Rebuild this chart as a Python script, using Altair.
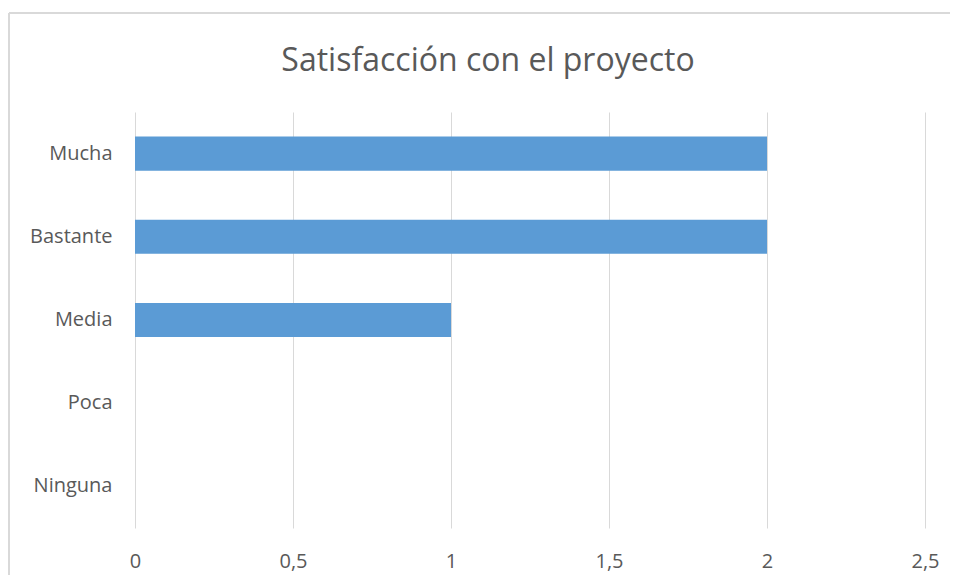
import altair as alt
import pandas as pd

categories = ["Mucha", "Bastante", "Media", "Poca", "Ninguna"]
values = [2, 2, 1, 0, 0]
x_ticks = [0, 0.5, 1, 1.5, 2, 2.5]
title_text = "Satisfacción con el proyecto"

df = pd.DataFrame({"nivel": categories, "valor": values})

FONT = "Open Sans"
GRAY = "#595959"
GRID = "#d9d9d9"

W, H = 790, 416

bars = alt.Chart(df).mark_bar(color="#5B9BD5").encode(
    x=alt.X(
        "valor:Q",
        scale=alt.Scale(domain=[0, 2.5], nice=False, zero=True),
        axis=alt.Axis(
            values=x_ticks,
            title=None,
            domain=False,
            ticks=False,
            grid=True,
            gridColor=GRID,
            gridWidth=1,
            labelColor=GRAY,
            labelFont=FONT,
            labelFontSize=20,
            labelPadding=23,
            labelFlush=False,
            labelExpr="replace(toString(datum.value), '.', ',')",
        ),
    ),
    y=alt.Y(
        "nivel:N",
        sort=categories,
        scale=alt.Scale(paddingInner=0.59, paddingOuter=0.295),
        axis=alt.Axis(
            title=None,
            domain=False,
            ticks=False,
            grid=False,
            labelColor=GRAY,
            labelFont=FONT,
            labelFontSize=20,
            labelPadding=23,
        ),
    ),
)

frame_top = alt.Chart(df).mark_rule(color=GRID, strokeWidth=2).encode(
    x=alt.value(-126), x2=alt.value(W + 40), y=alt.value(-99)
)
frame_left = alt.Chart(df).mark_rule(color=GRID, strokeWidth=2).encode(
    x=alt.value(-126), y=alt.value(-99), y2=alt.value(H + 60)
)

chart = (
    alt.layer(bars, frame_top, frame_left)
    .properties(
        width=W,
        height=H,
        background="white",
        autosize=alt.AutoSizeParams(type="none"),
        padding={"left": 127, "top": 104, "right": 25, "bottom": 47},
        title=alt.TitleParams(
            title_text,
            font=FONT,
            fontSize=32,
            fontWeight="normal",
            color=GRAY,
            anchor="middle",
            baseline="alphabetic",
            dx=-42,
            offset=30,
            dy=121,
        ),
    )
    .configure_view(strokeWidth=0, stroke="transparent")
)

chart.save("out.html", embed_options={"renderer": "svg", "actions": False})
